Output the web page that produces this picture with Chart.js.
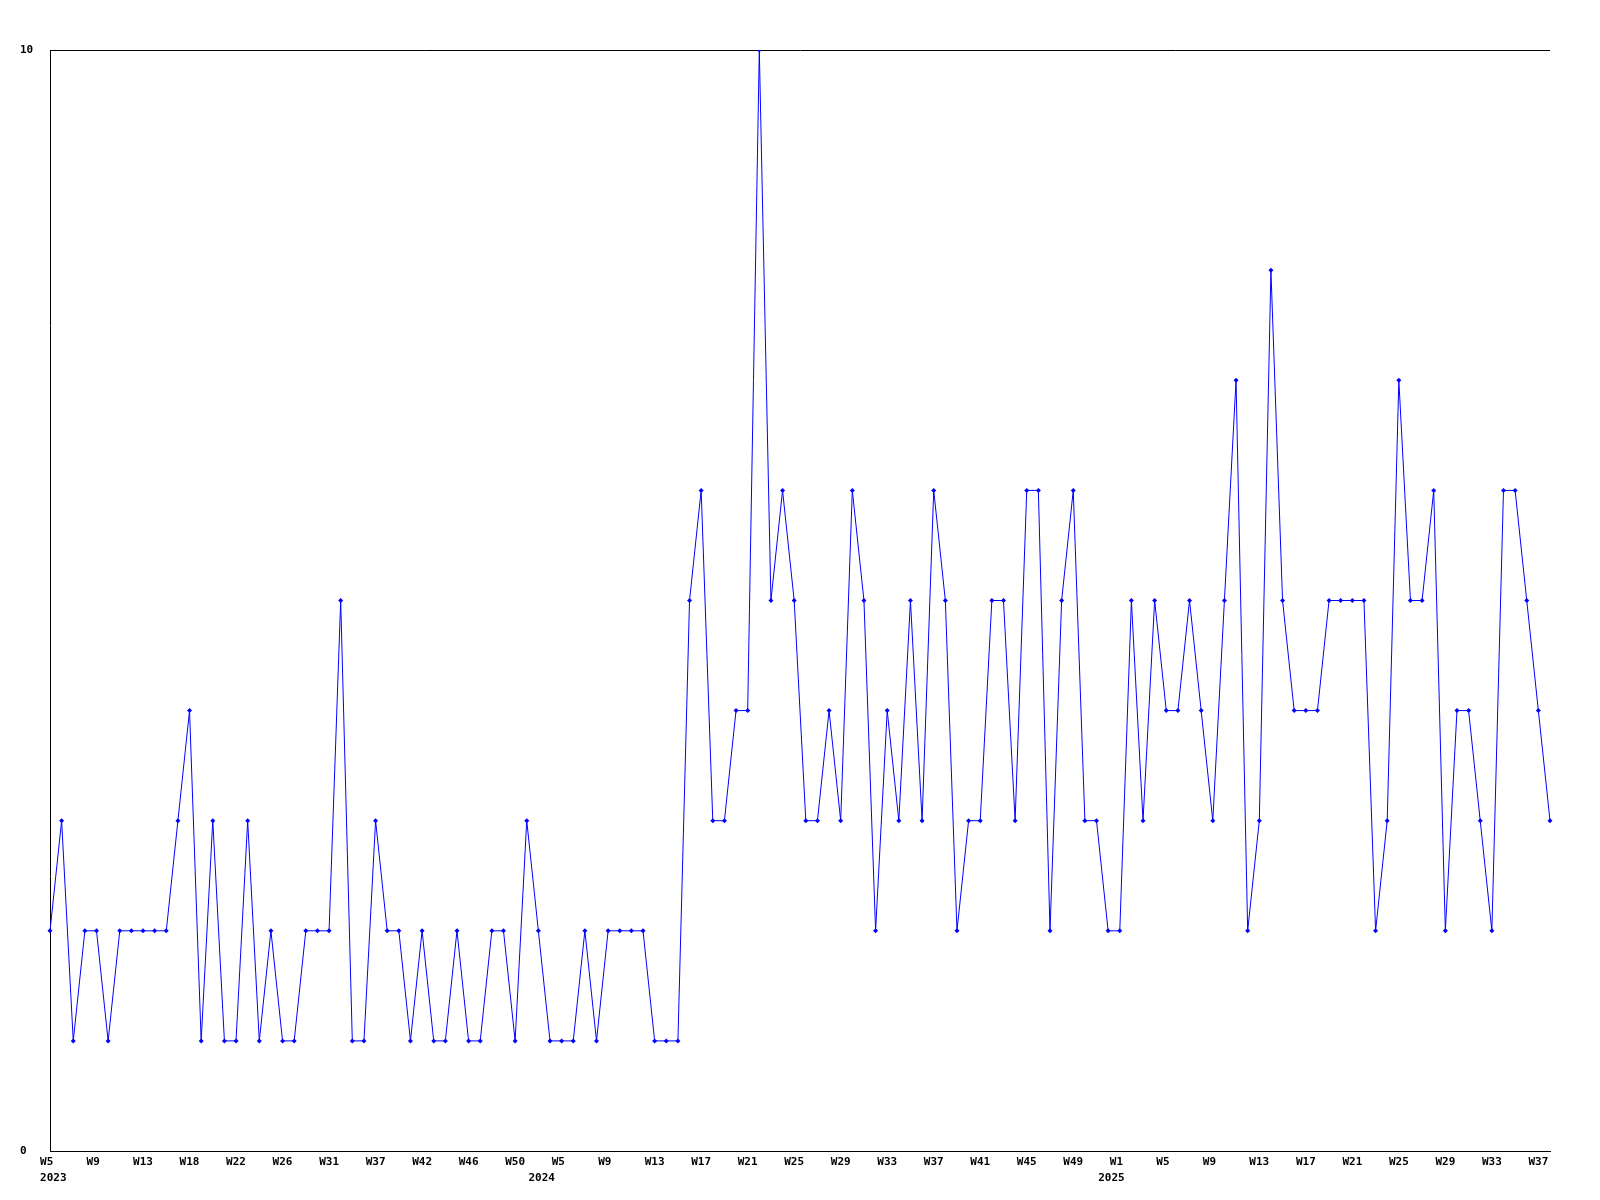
<!DOCTYPE html>
<html>
<head>
<meta charset="utf-8">
<script src="https://cdn.jsdelivr.net/npm/chart.js@4/dist/chart.umd.min.js"></script>
<style>
  html, body { margin: 0; padding: 0; background: #ffffff; }
  canvas { display: block; }
</style>
</head>
<body>
<canvas id="chart" width="1600" height="1200"></canvas>
<script>
// weeks that have a value (some weeks are absent in the source)
const categories = [
  'W5', 'W6', 'W7', 'W8', 'W9', 'W10', 'W11', 'W12',
  'W13', 'W14', 'W15', 'W16', 'W18', 'W19', 'W20', 'W21',
  'W22', 'W23', 'W24', 'W25', 'W26', 'W27', 'W28', 'W30',
  'W31', 'W32', 'W33', 'W35', 'W37', 'W38', 'W39', 'W40',
  'W42', 'W43', 'W44', 'W45', 'W46', 'W47', 'W48', 'W49',
  'W50', 'W51',
  'W1', 'W3', 'W5', 'W6', 'W7', 'W8', 'W9', 'W10',
  'W11', 'W12', 'W13', 'W14', 'W15', 'W16', 'W17', 'W18',
  'W19', 'W20', 'W21', 'W22', 'W23', 'W24', 'W25', 'W26',
  'W27', 'W28', 'W29', 'W30', 'W31', 'W32', 'W33', 'W34',
  'W35', 'W36', 'W37', 'W38', 'W39', 'W40', 'W41', 'W42',
  'W43', 'W44', 'W45', 'W46', 'W47', 'W48', 'W49', 'W50',
  'W51', 'W52',
  'W1', 'W2', 'W3', 'W4', 'W5', 'W6', 'W7', 'W8',
  'W9', 'W10', 'W11', 'W12', 'W13', 'W14', 'W15', 'W16',
  'W17', 'W18', 'W19', 'W20', 'W21', 'W22', 'W23', 'W24',
  'W25', 'W26', 'W27', 'W28', 'W29', 'W30', 'W31', 'W32',
  'W33', 'W34', 'W35', 'W36', 'W37', 'W38'
];

const counts = [
  2, 3, 1, 2, 2, 1, 2, 2, 2, 2,
  2, 3, 4, 1, 3, 1, 1, 3, 1, 2,
  1, 1, 2, 2, 2, 5, 1, 1, 3, 2,
  2, 1, 2, 1, 1, 2, 1, 1, 2, 2,
  1, 3, 2, 1, 1, 1, 2, 1, 2, 2,
  2, 2, 1, 1, 1, 5, 6, 3, 3, 4,
  4, 10, 5, 6, 5, 3, 3, 4, 3, 6,
  5, 2, 4, 3, 5, 3, 6, 5, 2, 3,
  3, 5, 5, 3, 6, 6, 2, 5, 6, 3,
  3, 2, 2, 5, 3, 5, 4, 4, 5, 4,
  3, 5, 7, 2, 3, 8, 5, 4, 4, 4,
  5, 5, 5, 5, 2, 3, 7, 5, 5, 6,
  2, 4, 4, 3, 2, 6, 6, 5, 4, 3
];

// year captions and the category index they sit under
const yearLabels = ['2023', '2024', '2025'];
const yearIndex = [0, 42, 91];

const yTicks = [0, 10];
const labelEvery = 4;

const tickFont = { family: 'DejaVu Sans Mono', size: 11, weight: 'bold', lineHeight: 1.45 };

function xLabel(index) {
  // labels in the original start a fixed step left of the point
  const week = index % labelEvery === 0 ? categories[index].padEnd(3, ' ') : '';
  const y = yearIndex.indexOf(index);
  if (y >= 0) return [week, ' ' + yearLabels[y]];
  return week;
}

new Chart(document.getElementById('chart'), {
  type: 'line',
  data: {
    labels: categories,
    datasets: [{
      data: counts,
      borderColor: '#0000ff',
      backgroundColor: '#0000ff',
      borderWidth: 1,
      tension: 0,
      pointStyle: 'rectRot',
      pointRadius: 2.5,
      pointBorderWidth: 0,
      pointBackgroundColor: '#0000ff'
    }]
  },
  options: {
    responsive: false,
    animation: false,
    devicePixelRatio: 1,
    layout: { padding: { left: 20, top: 50, right: 50, bottom: 0 } },
    plugins: { legend: { display: false }, tooltip: { enabled: false } },
    scales: {
      x: {
        type: 'category',
        offset: false,
        grid: { display: false, drawTicks: false },
        border: { display: true, color: '#000000', width: 1 },
        ticks: {
          autoSkip: false,
          maxRotation: 0,
          minRotation: 0,
          padding: 3,
          color: '#000000',
          font: tickFont,
          callback: (value, index) => xLabel(index)
        },
        afterFit: (axis) => { axis.height = 49; }
      },
      y: {
        min: yTicks[0],
        max: yTicks[1],
        afterBuildTicks: (axis) => { axis.ticks = yTicks.map(v => ({ value: v })); },
        grid: { color: '#000000', lineWidth: 1, drawTicks: false },
        border: { display: true, color: '#000000', width: 1 },
        ticks: {
          crossAlign: 'far',
          color: '#000000',
          font: tickFont
        },
        afterFit: (axis) => { axis.width = 30; }
      }
    }
  }
});
</script>
</body>
</html>
